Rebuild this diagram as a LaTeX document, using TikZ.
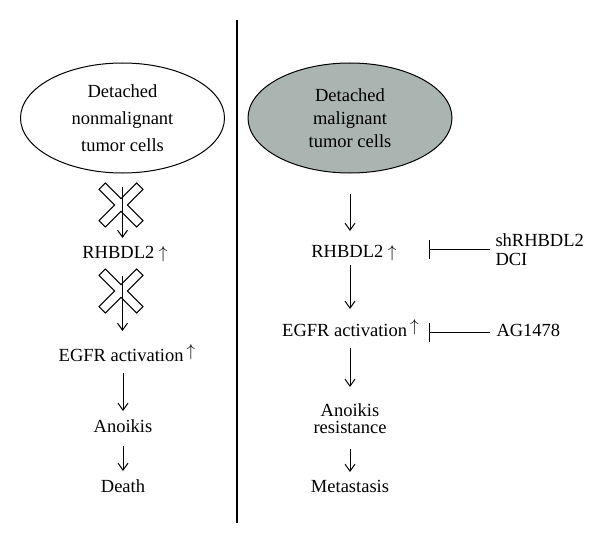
\documentclass[tikz,border=0pt]{standalone}
\usepackage{fontspec}
\setmainfont{Liberation Serif}
\usetikzlibrary{shapes.geometric,arrows.meta}
\definecolor{cellgray}{RGB}{170,181,178}

\begin{document}
\begin{tikzpicture}[x=1pt,y=-1pt,line width=1pt,
  cell/.style={ellipse,draw,minimum width=204pt,minimum height=110pt,inner sep=0pt,align=center},
  lbl/.style={inner sep=0pt,text height=13pt,text depth=4pt,font=\fontsize{18.5}{22}\selectfont},
  flow/.style={-{Straight Barb[length=7pt,width=10pt]}},
  block/.style={-{Bar[width=19pt]}}]
  \useasboundingbox (0,0) rectangle (600,543);
  \draw[line width=1.3pt] (237,20) -- (237,523);
  % left column
  \node[cell,font=\fontsize{18.5}{27}\selectfont] (ellL) at (122.5,118) {Detached\\nonmalignant\\tumor cells};
  \node[lbl] (rhbL) at (125,254) {RHBDL2\ $\uparrow$};
  \node[lbl] (egfrL) at (127,357) {EGFR activation\,\raisebox{5pt}{$\uparrow$}};
  \node[lbl] (anoL) at (123,428) {Anoikis};
  \node[lbl] (deathL) at (123,488) {Death};
  \draw[flow,shorten <=13pt,shorten >=7pt] (ellL.south) -- (ellL.south |- rhbL.north);
  \draw[flow,shorten <=13pt,shorten >=17pt] (rhbL.south -| ellL.south) -- (ellL.south |- egfrL.north);
  \draw[flow,shorten <=7pt,shorten >=8pt] (anoL.north |- egfrL.south) -- (anoL.north);
  \draw[flow,shorten <=9pt,shorten >=8pt] (anoL.south) -- (deathL.north);
  \foreach \cy in {205,291}
    \draw[shift={(121,\cy)},rotate=45] (4.5,4.5) -- (4.5,26.6) -- (-4.5,26.6) -- (-4.5,4.5) -- (-26.6,4.5) -- (-26.6,-4.5)
      -- (-4.5,-4.5) -- (-4.5,-26.6) -- (4.5,-26.6) -- (4.5,-4.5) -- (26.6,-4.5) -- (26.6,4.5) -- cycle;
  % right column
  \node[cell,fill=cellgray,font=\fontsize{18.5}{23}\selectfont] (ellR) at (350,118) {Detached\\malignant\\tumor cells};
  \node[lbl] (rhbR) at (354,253) {RHBDL2\ $\uparrow$};
  \node[lbl] (egfrR) at (350.5,332) {EGFR activation\,\raisebox{5pt}{$\uparrow$}};
  \node[inner sep=0pt,align=center,font=\fontsize{18.5}{17}\selectfont] (anoR) at (350,418.5) {Anoikis\\resistance};
  \node[lbl] (metaR) at (350,488) {Metastasis};
  \draw[flow,shorten <=20pt,shorten >=13pt] (ellR.south) -- (ellR.south |- rhbR.north);
  \draw[flow,shorten <=3pt,shorten >=14pt] (ellR.south |- rhbR.south) -- (ellR.south |- egfrR.north);
  \draw[flow,shorten <=7pt,shorten >=16pt] (anoR.north |- egfrR.south) -- (anoR.north);
  \draw[flow,shorten <=15pt,shorten >=7pt] (anoR.south) -- (anoR.south |- metaR.north);
  % inhibitors
  \node[anchor=west,inner sep=0pt,align=left,font=\fontsize{18.5}{19}\selectfont] (shR) at (495,249.5) {shRHBDL2\\DCI};
  \node[lbl,anchor=west] (agR) at (496,332) {AG1478};
  \coordinate (barA) at (429,250);
  \coordinate (barB) at (429,333);
  \draw[block,shorten <=5pt] (shR.west) -- (shR.west -| barA);
  \draw[block,shorten <=6pt] (agR.west) -- (agR.west -| barB);
\end{tikzpicture}
\end{document}
